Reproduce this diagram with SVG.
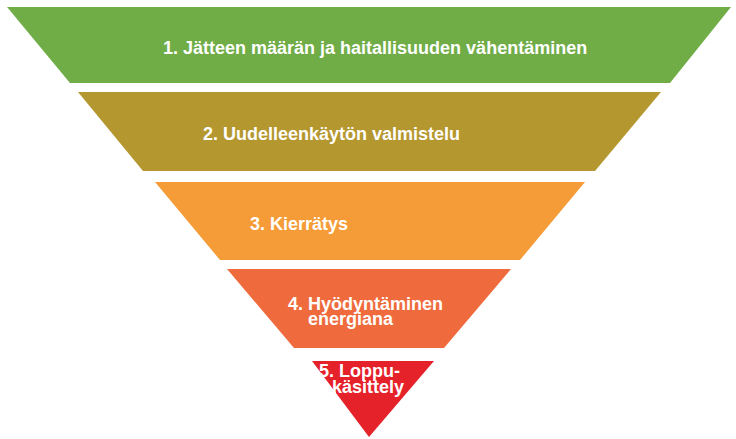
<svg xmlns="http://www.w3.org/2000/svg" width="736" height="439" viewBox="0 0 736 439">
<style>
.lbl{font-family:"Liberation Sans",Arial,sans-serif;font-weight:bold;font-size:18px;fill:#ffffff}
</style>
<rect width="736" height="439" fill="#ffffff"/>
<g id="level1">
<polygon points="7,7 731,7 670,83 70,83" fill="#70AD47"/>
<text class="lbl" x="163" y="54">1. Jätteen määrän ja haitallisuuden vähentäminen</text>
</g>
<g id="level2">
<polygon points="78,92 661,92 595,171 143,171" fill="#B5972F"/>
<text class="lbl" x="203" y="140">2. Uudelleenkäytön valmistelu</text>
</g>
<g id="level3">
<polygon points="155,182 585,182 520,260 220,260" fill="#F59B38"/>
<text class="lbl" x="250" y="230">3. Kierrätys</text>
</g>
<g id="level4">
<polygon points="227,269 511,269 444,348 294,348" fill="#EF6B3D"/>
<text class="lbl" x="288" y="310">4. Hyödyntäminen</text>
<text class="lbl" x="308" y="325">energiana</text>
</g>
<g id="level5">
<polygon points="312,361 434,361 369,437" fill="#E5222A"/>
<text class="lbl" x="319" y="377">5. Loppu-</text>
<text class="lbl" x="332" y="393">käsittely</text>
</g>
</svg>
